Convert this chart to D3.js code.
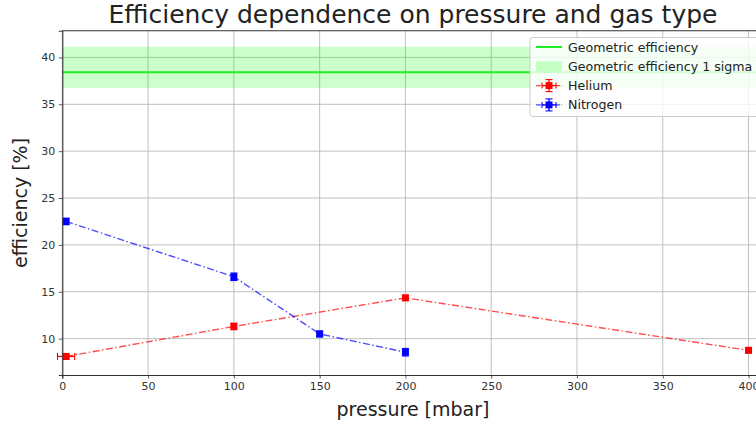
<!DOCTYPE html>
<html>
<head>
<meta charset="utf-8">
<script src="https://cdn.jsdelivr.net/npm/d3@7"></script>
<style>
  body { margin: 0; background: #fff; }
  svg { font-family: "DejaVu Sans", sans-serif; }
</style>
</head>
<body>
<div id="chart"></div>
<script>
// measured values
const heliumPressure = [2.2, 100, 200, 400];
const heliumEff = [8.1, 11.3, 14.35, 8.75];
const heliumPErr = [5, 1, 1, 1];
const heliumEffErr = [0.3, 0.35, 0.25, 0.25];

const nitrogenPressure = [2.2, 100, 150, 200];
const nitrogenEff = [22.5, 16.6, 10.5, 8.55];
const nitrogenPErr = [1, 1, 1, 1];
const nitrogenEffErr = [0.35, 0.4, 0.3, 0.4];

const geomEff = 38.43;
const geomLow = 36.76;
const geomHigh = 41.13;

const xTicks = [0, 50, 100, 150, 200, 250, 300, 350, 400];
const yTicks = [10, 15, 20, 25, 30, 35, 40];

const width = 756, height = 426;
const margin = {top: 30.7, left: 62.3, bottom: 51, right: -9.7};

const svg = d3.select("#chart").append("svg")
    .attr("width", width)
    .attr("height", height);

const x = d3.scaleLinear().domain([0, 410]).range([margin.left, width - margin.right]);
const y = d3.scaleLinear().domain([6.12, 42.85]).range([height - margin.bottom, margin.top]);

// grid
svg.append("g").selectAll("line").data(xTicks).enter().append("line")
    .attr("x1", d => x(d)).attr("x2", d => x(d))
    .attr("y1", y.range()[0]).attr("y2", y.range()[1])
    .attr("stroke", "#b0b0b0").attr("stroke-width", 0.8);
svg.append("g").selectAll("line").data(yTicks).enter().append("line")
    .attr("y1", d => y(d)).attr("y2", d => y(d))
    .attr("x1", x.range()[0]).attr("x2", x.range()[1])
    .attr("stroke", "#b0b0b0").attr("stroke-width", 0.8);

// geometric efficiency band + line
svg.append("rect")
    .attr("x", x.range()[0]).attr("width", x.range()[1] - x.range()[0])
    .attr("y", y(geomHigh)).attr("height", y(geomLow) - y(geomHigh))
    .attr("fill", "#00ff00").attr("fill-opacity", 0.2);
svg.append("line")
    .attr("x1", x.range()[0]).attr("x2", x.range()[1])
    .attr("y1", y(geomEff)).attr("y2", y(geomEff))
    .attr("stroke", "#22ee22").attr("stroke-width", 2);

function series(px, py, pe, ye, color) {
  const pts = px.map((p, i) => ({p: p, e: py[i], pe: pe[i], ye: ye[i]}));
  const g = svg.append("g");
  g.append("path").datum(pts)
    .attr("d", d3.line().x(d => x(d.p)).y(d => y(d.e)))
    .attr("fill", "none").attr("stroke", color).attr("stroke-width", 1.4)
    .attr("stroke-opacity", 0.7).attr("stroke-dasharray", "7,2.5,1.5,2.5");
  const eb = g.selectAll("g.eb").data(pts).enter().append("g");
  const cap = 3.5;
  eb.append("line")
    .attr("x1", d => x(d.p)).attr("x2", d => x(d.p))
    .attr("y1", d => y(d.e - d.ye)).attr("y2", d => y(d.e + d.ye))
    .attr("stroke", color).attr("stroke-width", 1.3);
  eb.append("line")
    .attr("x1", d => x(d.p - d.pe)).attr("x2", d => x(d.p + d.pe))
    .attr("y1", d => y(d.e)).attr("y2", d => y(d.e))
    .attr("stroke", color).attr("stroke-width", 1.3);
  [-1, 1].forEach(s => {
    eb.append("line")
      .attr("x1", d => x(d.p) - cap).attr("x2", d => x(d.p) + cap)
      .attr("y1", d => y(d.e + s * d.ye)).attr("y2", d => y(d.e + s * d.ye))
      .attr("stroke", color).attr("stroke-width", 1.1);
    eb.append("line")
      .attr("x1", d => x(d.p + s * d.pe)).attr("x2", d => x(d.p + s * d.pe))
      .attr("y1", d => y(d.e) - cap).attr("y2", d => y(d.e) + cap)
      .attr("stroke", color).attr("stroke-width", 1.1);
  });
  eb.append("rect")
    .attr("x", d => x(d.p) - 3.5).attr("y", d => y(d.e) - 3.5)
    .attr("width", 7).attr("height", 7)
    .attr("fill", color);
}

series(heliumPressure, heliumEff, heliumPErr, heliumEffErr, "#ff0000");
series(nitrogenPressure, nitrogenEff, nitrogenPErr, nitrogenEffErr, "#0000ff");

// axes
const xAxis = svg.append("g")
    .attr("transform", `translate(0,${y.range()[0]})`)
    .call(d3.axisBottom(x).tickValues(xTicks).tickSize(3.5).tickPadding(3.5).tickFormat(d3.format("d")));
const yAxis = svg.append("g")
    .attr("transform", `translate(${x.range()[0]},0)`)
    .call(d3.axisLeft(y).tickValues(yTicks).tickSize(3.5).tickPadding(3.5).tickFormat(d3.format("d")));
[xAxis, yAxis].forEach(a => {
  a.select(".domain").attr("stroke", "#333").attr("stroke-width", 1.1);
  a.selectAll(".tick line").attr("stroke", "#333").attr("stroke-width", 0.8);
  a.selectAll("text").attr("font-family", "DejaVu Sans").attr("font-size", 11).attr("fill", "#333");
});
svg.append("line")
    .attr("x1", x.range()[0]).attr("x2", x.range()[1])
    .attr("y1", y.range()[1]).attr("y2", y.range()[1])
    .attr("stroke", "#333").attr("stroke-width", 1.1);

// labels
svg.append("text")
    .attr("x", 413).attr("y", 23)
    .attr("text-anchor", "middle").attr("font-size", 25).attr("fill", "#222")
    .text("Efficiency dependence on pressure and gas type");
svg.append("text")
    .attr("x", 413).attr("y", 416)
    .attr("text-anchor", "middle").attr("font-size", 19).attr("fill", "#222")
    .text("pressure [mbar]");
svg.append("text")
    .attr("transform", "translate(27,203) rotate(-90)")
    .attr("text-anchor", "middle").attr("font-size", 19).attr("fill", "#222")
    .text("efficiency [%]");

// legend
const lg = svg.append("g").attr("transform", "translate(530,37.5)");
lg.append("rect").attr("x", 0).attr("y", 0).attr("width", 240).attr("height", 79)
    .attr("rx", 3).attr("fill", "#fff").attr("fill-opacity", 0.8)
    .attr("stroke", "#ccc").attr("stroke-width", 1);
const items = [
  {label: "Geometric efficiency", kind: "line"},
  {label: "Geometric efficiency 1 sigma", kind: "patch"},
  {label: "Helium", kind: "err", color: "#ff0000"},
  {label: "Nitrogen", kind: "err", color: "#0000ff"}
];
items.forEach((it, i) => {
  const cy = 9.5 + i * 19.3;
  const h = lg.append("g");
  if (it.kind === "line") {
    h.append("line").attr("x1", 6).attr("x2", 32).attr("y1", cy).attr("y2", cy)
      .attr("stroke", "#22ee22").attr("stroke-width", 2);
  } else if (it.kind === "patch") {
    h.append("rect").attr("x", 6).attr("y", cy - 5).attr("width", 26).attr("height", 10)
      .attr("fill", "#00ff00").attr("fill-opacity", 0.2);
  } else {
    h.append("line").attr("x1", 6).attr("x2", 32).attr("y1", cy).attr("y2", cy)
      .attr("stroke", it.color).attr("stroke-width", 1.2).attr("stroke-opacity", 0.7)
      .attr("stroke-dasharray", "5,1.5,1.5,1.5");
    h.append("line").attr("x1", 12).attr("x2", 26).attr("y1", cy).attr("y2", cy)
      .attr("stroke", it.color).attr("stroke-width", 1.3);
    [12, 26].forEach(xx => h.append("line").attr("x1", xx).attr("x2", xx)
      .attr("y1", cy - 3).attr("y2", cy + 3).attr("stroke", it.color).attr("stroke-width", 1.1));
    h.append("line").attr("x1", 19).attr("x2", 19).attr("y1", cy - 6).attr("y2", cy + 6)
      .attr("stroke", it.color).attr("stroke-width", 1.3);
    [-6, 6].forEach(dy => h.append("line").attr("x1", 15.5).attr("x2", 22.5)
      .attr("y1", cy + dy).attr("y2", cy + dy).attr("stroke", it.color).attr("stroke-width", 1.1));
    h.append("rect").attr("x", 15.5).attr("y", cy - 3.5).attr("width", 7).attr("height", 7)
      .attr("fill", it.color);
  }
  lg.append("text").attr("x", 38).attr("y", cy + 4.5).attr("font-size", 12.6).attr("fill", "#222")
    .text(it.label);
});
</script>
</body>
</html>
